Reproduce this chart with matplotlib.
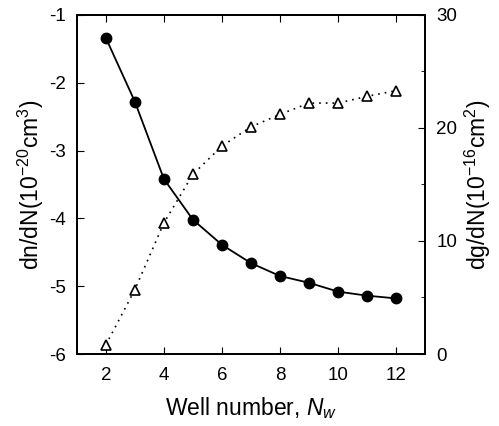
import matplotlib
matplotlib.use("Agg")
import matplotlib.pyplot as plt
from matplotlib.ticker import MultipleLocator

plt.rcParams["font.family"] = ["Liberation Sans", "DejaVu Sans"]
plt.rcParams["mathtext.fontset"] = "custom"
plt.rcParams["mathtext.rm"] = "Liberation Sans"
plt.rcParams["mathtext.it"] = "Liberation Sans:italic"
plt.rcParams["axes.unicode_minus"] = False

# Datos
wells = [2, 3, 4, 5, 6, 7, 8, 9, 10, 11, 12]
dn_dN = [-1.34, -2.28, -3.42, -4.02, -4.39, -4.66, -4.85, -4.95, -5.08, -5.14, -5.18]
dg_dN = [0.8, 5.7, 11.6, 15.9, 18.4, 20.1, 21.2, 22.2, 22.2, 22.8, 23.3]

fig = plt.figure(figsize=(4.99, 4.26), dpi=100)
ax = fig.add_axes([0.154, 0.169, 0.698, 0.796])
ax2 = ax.twinx()

ax.plot(wells, dn_dN, color="black", lw=1.3, marker="o", ms=7.5,
        mfc="black", mec="black")
ax2.plot(wells, dg_dN, color="black", lw=1.2, ls=(0, (1, 3)), marker="^",
         ms=7, mfc="white", mec="black", mew=1.2)

ax.set_xlim(1, 13)
ax.set_ylim(-6, -1)
ax2.set_ylim(0, 30)

ax.xaxis.set_major_locator(MultipleLocator(2))
ax.yaxis.set_major_locator(MultipleLocator(1))
ax2.yaxis.set_major_locator(MultipleLocator(10))
ax2.yaxis.set_minor_locator(MultipleLocator(5))

ax.tick_params(axis="x", direction="in", top=True, labelsize=13.5, length=5, pad=9)
ax.tick_params(axis="y", direction="in", labelsize=13.5, length=5, pad=8)
ax2.tick_params(axis="y", which="major", direction="in", labelsize=13.5, length=5, pad=8)
ax2.tick_params(axis="y", which="minor", direction="in", length=3)

for a in (ax, ax2):
    for s in a.spines.values():
        s.set_linewidth(1.3)

ax.set_xlabel("Well number, $N_w$", fontsize=16.5, labelpad=8)
ax.set_ylabel("dn/dN(10$^{-20}$cm$^3$)", fontsize=16.5, labelpad=2)
ax2.set_ylabel("dg/dN(10$^{-16}$cm$^2$)", fontsize=16.5, rotation=90, labelpad=4)

fig.savefig("out.png", dpi=100)
